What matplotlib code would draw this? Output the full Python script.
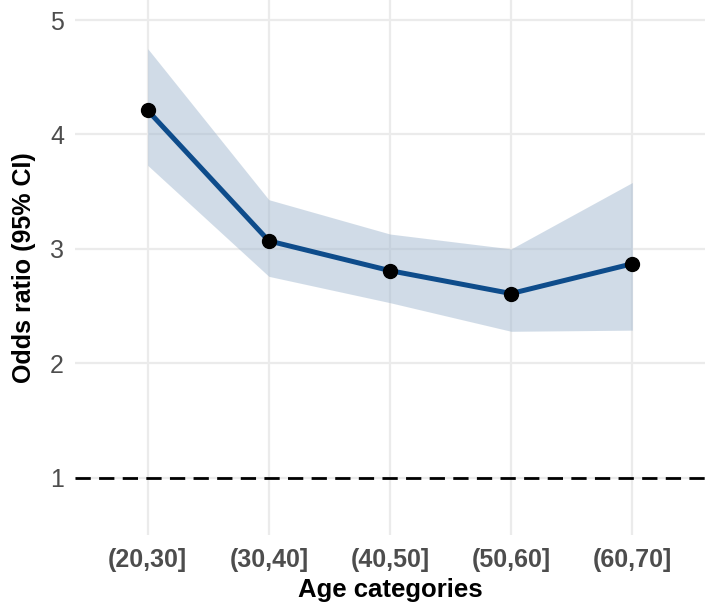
import matplotlib
matplotlib.use("Agg")
import matplotlib.pyplot as plt
import numpy as np

categories = ["(20,30]", "(30,40]", "(40,50]", "(50,60]", "(60,70]"]
odds_ratio = [4.21, 3.07, 2.81, 2.61, 2.87]
ci_lower = [3.73, 2.76, 2.53, 2.28, 2.29]
ci_upper = [4.75, 3.43, 3.13, 3.00, 3.58]
y_ticks = [1, 2, 3, 4, 5]

plt.rcParams['font.family'] = ['Liberation Sans', 'DejaVu Sans']

fig = plt.figure(figsize=(7.05, 6.08), dpi=100)
ax = fig.add_axes([75/705, 73/608, 630/705, 535/608])

x = np.arange(1, len(categories) + 1)
ax.fill_between(x, ci_lower, ci_upper, color="#A3B9D0", alpha=0.5, linewidth=0, zorder=2)
ax.axhline(1, color="black", linestyle=(0, (5.5, 3)), linewidth=2.0, zorder=3)
ax.plot(x, odds_ratio, color="#0E4C8B", linewidth=3.6, zorder=4)
ax.plot(x, odds_ratio, "o", color="black", markersize=10, zorder=5)

ax.set_xlim(0.4, 5.6)
ax.set_ylim(0.5, 5.175)
ax.set_xticks(x)
ax.set_xticklabels(categories, fontsize=18, fontweight="bold", color="#4D4D4D")
ax.set_yticks(y_ticks)
ax.set_yticklabels([str(t) for t in y_ticks], fontsize=18, color="#4D4D4D")
ax.tick_params(axis="x", length=0, pad=9)
ax.tick_params(axis="y", length=0, pad=8)
ax.grid(True, color="#EBEBEB", linewidth=1.6, zorder=0)
ax.set_axisbelow(True)
for s in ax.spines.values():
    s.set_visible(False)

ax.set_xlabel("Age categories", fontsize=18.5, fontweight="bold", color="black", labelpad=5)
ax.set_ylabel("Odds ratio (95% CI)", fontsize=18, fontweight="bold", color="black", labelpad=10)

fig.savefig("out.png", dpi=100)
